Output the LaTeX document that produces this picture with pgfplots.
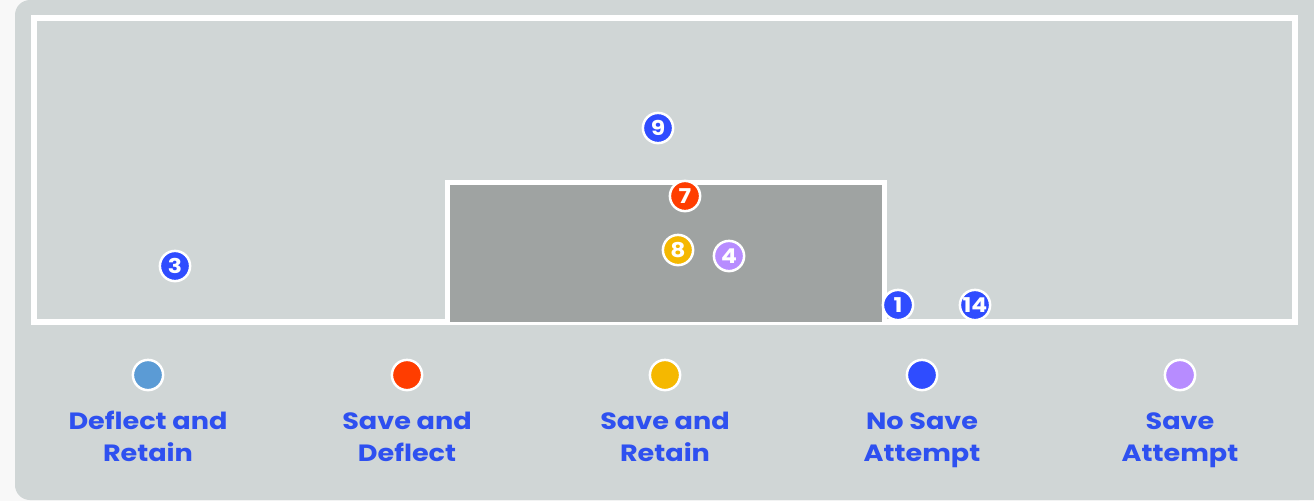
\documentclass[border=0pt]{standalone}
\usepackage{fontspec}
\setmainfont{Poppins}[FakeStretch=1.15]
\usepackage{pgfplots}
\pgfplotsset{compat=1.18}
\definecolor{bgpage}{HTML}{F8F8F8}
\definecolor{pitch}{HTML}{D0D6D6}
\definecolor{goal}{HTML}{9FA3A2}
\definecolor{noatt}{HTML}{2F4CFF}
\definecolor{svdef}{HTML}{FF3D00}
\definecolor{svret}{HTML}{F5B800}
\definecolor{svatt}{HTML}{B78CFF}
\definecolor{defret}{HTML}{5B9BD5}
\definecolor{lbl}{HTML}{2E50F0}

\begin{document}
\begin{tikzpicture}
\begin{axis}[
  scale only axis, width=131.4mm, height=50.1mm,
  xmin=0, xmax=1314, ymin=0, ymax=501, y dir=reverse,
  hide axis, clip=false,
  every axis plot/.append style={only marks, mark=*, mark size=4.3pt},
  nodes near coords style={font=\bfseries\fontsize{5.8}{6}\selectfont, text=white, anchor=center, inner sep=0pt},
  dot/.style={mark options={draw=white, line width=0.25mm, fill=#1}},
]
% background panels
\fill[bgpage] (axis cs:0,0) rectangle (axis cs:1314,501);
\fill[pitch, rounded corners=1.5mm] (axis cs:15,0) rectangle (axis cs:1314,500);
\fill[pitch] (axis cs:600,0) rectangle (axis cs:1314,500);
% goal frame
\draw[white, line width=0.6mm] (axis cs:34,18) rectangle (axis cs:1295,322);
\filldraw[fill=goal, draw=white, line width=0.5mm] (axis cs:447,322) -- (axis cs:447,182) -- (axis cs:884,182) -- (axis cs:884,322);

% shots
\addplot[dot=noatt, nodes near coords, point meta=explicit symbolic]
  coordinates {(658,128)[9] (175,266)[3] (898,305)[1] (975,305)[14]};
\addplot[dot=svdef, nodes near coords, point meta=explicit symbolic]
  coordinates {(685,196)[7]};
\addplot[dot=svret, nodes near coords, point meta=explicit symbolic]
  coordinates {(678,250)[8]};
\addplot[dot=svatt, nodes near coords, point meta=explicit symbolic]
  coordinates {(729,256)[4]};

% legend markers
\addplot[dot=defret] coordinates {(148,375)};
\addplot[dot=svdef] coordinates {(407,375)};
\addplot[dot=svret] coordinates {(665,375)};
\addplot[dot=noatt] coordinates {(922,375)};
\addplot[dot=svatt] coordinates {(1180,375)};

\begin{scope}[every node/.style={text=lbl, font=\bfseries\fontsize{6.7}{9}\selectfont, anchor=base, inner sep=0pt}]
\node at (axis cs:148,429) {Deflect and};
\node at (axis cs:148,461) {Retain};
\node at (axis cs:407,429) {Save and};
\node at (axis cs:407,461) {Deflect};
\node at (axis cs:665,429) {Save and};
\node at (axis cs:665,461) {Retain};
\node at (axis cs:922,429) {No Save};
\node at (axis cs:922,461) {Attempt};
\node at (axis cs:1180,429) {Save};
\node at (axis cs:1180,461) {Attempt};
\end{scope}
\end{axis}
\end{tikzpicture}
\end{document}
